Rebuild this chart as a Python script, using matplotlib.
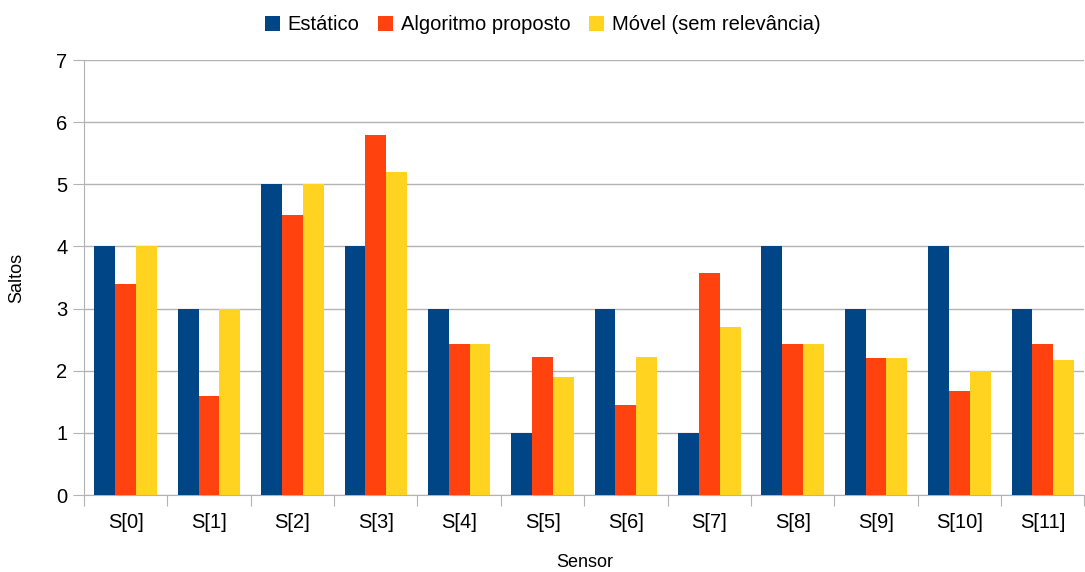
import numpy as np
import matplotlib.pyplot as plt

plt.rcParams['font.family'] = ['Liberation Sans', 'DejaVu Sans']

# Data
sensors = ['S[0]', 'S[1]', 'S[2]', 'S[3]', 'S[4]', 'S[5]',
           'S[6]', 'S[7]', 'S[8]', 'S[9]', 'S[10]', 'S[11]']
estatico = [4, 3, 5, 4, 3, 1, 3, 1, 4, 3, 4, 3]
algoritmo = [3.4, 1.6, 4.5, 5.8, 2.43, 2.22, 1.45, 3.57, 2.43, 2.21, 1.67, 2.43]
movel = [4, 3, 5, 5.2, 2.43, 1.9, 2.22, 2.7, 2.43, 2.21, 2.0, 2.17]

labels = ['Estático', 'Algoritmo proposto', 'Móvel (sem relevância)']
colors = ['#004586', '#ff420e', '#ffd320']

fig = plt.figure(figsize=(10.85, 5.72), dpi=100)
ax = fig.add_axes([0.0774, 0.1346, 0.9221, 0.7605])

x = np.arange(len(sensors))
w = 0.25
for i, (vals, lab, col) in enumerate(zip([estatico, algoritmo, movel], labels, colors)):
    ax.bar(x + (i - 1) * w, vals, w, color=col, label=lab, zorder=3)

ax.set_xlim(-0.5, len(sensors) - 0.5)
ax.set_ylim(0, 7)
ax.set_yticks(range(8))
ax.tick_params(axis='y', length=8, color='#b3b3b3', labelsize=14.5, pad=4)

# category boundaries get the tick marks, labels sit in the middle
ax.set_xticks(np.arange(-0.5, len(sensors)), minor=False)
ax.set_xticklabels([])
ax.set_xticks(x, minor=True)
ax.set_xticklabels(sensors, minor=True, fontsize=14.5)
ax.tick_params(axis='x', which='major', length=8, color='#b3b3b3')
ax.tick_params(axis='x', which='minor', length=0, pad=13)

ax.grid(axis='y', color='#b3b3b3', linewidth=1, zorder=0)
for s in ['top', 'right']:
    ax.spines[s].set_visible(False)
for s in ['left', 'bottom']:
    ax.spines[s].set_color('#b3b3b3')

ax.set_ylabel('Saltos', fontsize=13, labelpad=22)
ax.set_xlabel('Sensor', fontsize=13, labelpad=16)

fig.legend(loc='upper center', bbox_to_anchor=(0.5, 1.005), ncol=3, frameon=False,
           fontsize=14.5, handlelength=0.75, handleheight=0.75, handletextpad=0.4,
           columnspacing=0.9)

fig.savefig('out.png', dpi=100)
